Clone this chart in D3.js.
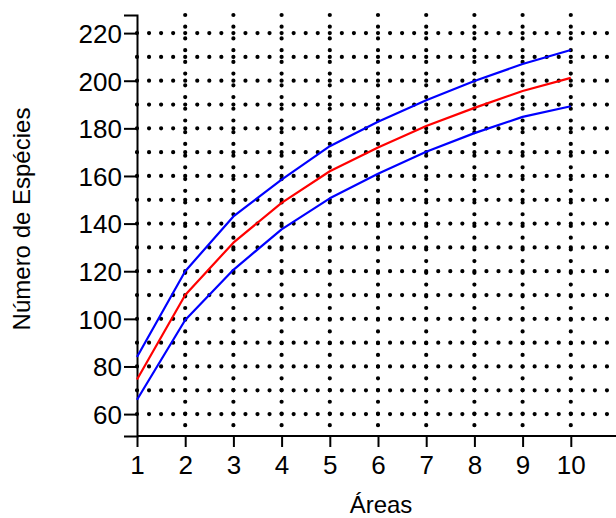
<!DOCTYPE html>
<html>
<head>
<meta charset="utf-8">
<script src="https://cdn.jsdelivr.net/npm/d3@7"></script>
<style>
  html, body { margin: 0; padding: 0; background: #fff; }
  svg { display: block; font-family: "Liberation Sans", Arial, sans-serif; }
</style>
</head>
<body>
<svg id="chart" width="616" height="518"></svg>
<script>
// Species accumulation curve: mean estimate with lower/upper bounds
const areas = [1, 2, 3, 4, 5, 6, 7, 8, 9, 10];
const meanSpecies  = [74.5, 110, 132, 148.7, 162, 172, 181, 188.6, 195.7, 201.2];
const upperSpecies = [84, 120, 143, 158.5, 172.5, 182.8, 191.8, 199.9, 207, 212.9];
const lowerSpecies = [66, 99.5, 120.6, 137.6, 150.6, 160.9, 170.2, 178, 184.8, 189.3];
const xTicks = [1, 2, 3, 4, 5, 6, 7, 8, 9, 10];
const yTicks = [60, 80, 100, 120, 140, 160, 180, 200, 220];
const yGrid = [60, 70, 80, 90, 100, 110, 120, 130, 140, 150, 160, 170, 180, 190, 200, 210, 220];
const xGrid = [2, 3, 4, 5, 6, 7, 8, 9, 10];

const svg = d3.select("#chart");
const x = d3.scaleLinear().domain([1, 11]).range([137, 619]);
const y = d3.scaleLinear().domain([50.8, 227.6]).range([436, 15]);

// dotted grid
const grid = svg.append("g")
  .attr("stroke", "#000")
  .attr("stroke-linecap", "round")
  .attr("stroke-width", 4.2);

grid.selectAll("line.h").data(yGrid).join("line")
  .attr("class", "h")
  .attr("x1", x(1)).attr("x2", 616)
  .attr("y1", d => y(d)).attr("y2", d => y(d))
  .attr("stroke-dasharray", `0 ${(x(2) - x(1)) / 4}`);

grid.selectAll("line.v").data(xGrid).join("line")
  .attr("class", "v")
  .attr("x1", d => x(d)).attr("x2", d => x(d))
  .attr("y1", y.range()[1]).attr("y2", y.range()[0] - 4)
  .attr("stroke-dasharray", "0 11.72");

// axes
const xAxis = svg.append("g")
  .attr("transform", `translate(0,${y.range()[0]})`)
  .call(d3.axisBottom(x).tickValues(xTicks).tickFormat(d3.format("d")).tickSizeOuter(0).tickSize(11).tickPadding(9));
xAxis.select(".domain").attr("d", `M${x(1)},0H616`);

const yAxis = svg.append("g")
  .attr("transform", `translate(${x(1)},0)`)
  .call(d3.axisLeft(y).tickValues(yTicks).tickSizeOuter(0).tickSize(13).tickPadding(2));

svg.selectAll(".domain, .tick line").attr("stroke", "#000").attr("stroke-width", 2);
svg.selectAll(".tick text").attr("fill", "#000").attr("font-size", 26)
  .attr("font-family", "'Liberation Sans', Arial, sans-serif");
yAxis.selectAll(".tick text").attr("dy", "0.36em");

// curves
const line = d3.line().x((d, i) => x(areas[i])).y(d => y(d));
const series = [
  { values: upperSpecies, color: "#0000ff" },
  { values: lowerSpecies, color: "#0000ff" },
  { values: meanSpecies,  color: "#ff0000" }
];
svg.append("g").selectAll("path").data(series).join("path")
  .attr("d", d => line(d.values))
  .attr("fill", "none")
  .attr("stroke", d => d.color)
  .attr("stroke-width", 2.2)
  .attr("stroke-linejoin", "round");

// axis titles
svg.append("text")
  .attr("x", 381).attr("y", 513)
  .attr("text-anchor", "middle")
  .attr("font-size", 24)
  .text("Áreas");

svg.append("text")
  .attr("transform", "translate(30,219) rotate(-90)")
  .attr("text-anchor", "middle")
  .attr("font-size", 24)
  .text("Número de Espécies");
</script>
</body>
</html>
